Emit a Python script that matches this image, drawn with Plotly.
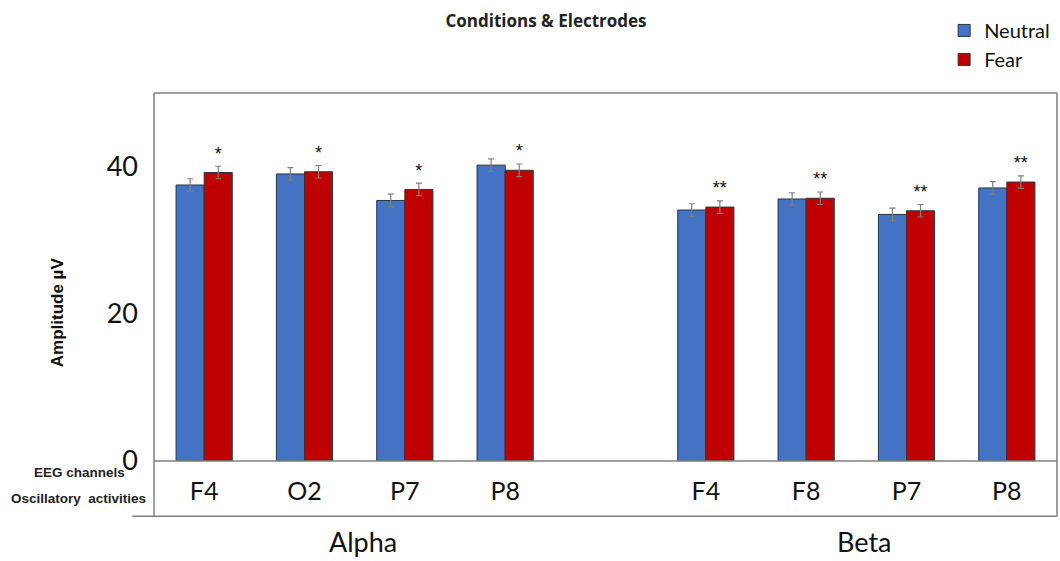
import plotly.graph_objects as go

# ---- data ----
electrodes = ["F4", "O2", "P7", "P8", "F4", "F8", "P7", "P8"]
bands = ["Alpha", "Beta"]
band_of = ["Alpha"] * 4 + ["Beta"] * 4
slot = [0, 1, 2, 3, 5, 6, 7, 8]          # category slots (slot 4 left empty)
neutral = [37.5, 39.0, 35.4, 40.2, 34.1, 35.6, 33.5, 37.1]
fear = [39.2, 39.3, 36.9, 39.5, 34.5, 35.7, 34.0, 37.9]
neutral_err = [0.85, 0.85, 0.85, 0.85, 0.85, 0.85, 0.85, 0.85]
fear_err = [0.85, 0.85, 0.85, 0.85, 0.85, 0.85, 0.85, 0.85]
signif = ["*", "*", "*", "*", "**", "**", "**", "**"]
y_ticks = [0, 20, 40]

BLUE = "#4472C4"
RED = "#C00000"
BW = 0.28

fig = go.Figure()
fig.add_trace(go.Bar(
    x=slot, y=neutral, name="Neutral", width=BW, offset=-BW,
    marker=dict(color=BLUE, line=dict(color="#2b3440", width=1)),
    error_y=dict(type="data", array=neutral_err, color="#7f7f7f", thickness=1.2, width=3),
))
fig.add_trace(go.Bar(
    x=slot, y=fear, name="Fear", width=BW, offset=0,
    marker=dict(color=RED, line=dict(color="#2b3440", width=1)),
    error_y=dict(type="data", array=fear_err, color="#7f7f7f", thickness=1.2, width=3),
))
# significance markers above the Fear bars
fig.add_trace(go.Scatter(
    x=[s + BW / 2 for s in slot],
    y=[f + e + 1.5 for f, e in zip(fear, fear_err)],
    mode="text", text=signif, showlegend=False, hoverinfo="skip",
    textposition="middle center",
    textfont=dict(family="Liberation Sans", size=18, color="#111"),
))

# band labels under each group
for b in bands:
    xs = [s for s, bb in zip(slot, band_of) if bb == b]
    fig.add_annotation(x=sum(xs) / len(xs), xref="x", y=-0.22, yref="paper",
                       text=b, showarrow=False, yanchor="middle", xshift=8,
                       font=dict(family="Lato", size=27, color="#111"))

# y-axis title (centred like the reference)
fig.add_annotation(x=-0.106, xref="paper", y=0.405, yref="paper", text="<b>Amplitude µV</b>",
                   showarrow=False, textangle=-90, xanchor="center", yanchor="middle",
                   font=dict(family="Liberation Sans", size=17, color="#111"))

# left row labels
fig.add_annotation(x=-0.082, xref="paper", y=-0.03, yref="paper", text="<b>EEG channels</b>",
                   showarrow=False, xanchor="center", yanchor="middle",
                   font=dict(family="Liberation Sans", size=13.5, color="#222"))
fig.add_annotation(x=-0.084, xref="paper", y=-0.103, yref="paper", text="<b>Oscillatory  activities</b>",
                   showarrow=False, xanchor="center", yanchor="middle",
                   font=dict(family="Liberation Sans", size=13.5, color="#222"))

# frame lines (table-like box)
lw = 1.5
fig.add_shape(type="line", xref="paper", yref="paper", x0=0, x1=0, y0=-0.15, y1=1,
              line=dict(color="#a0a0a0", width=2))
fig.add_shape(type="line", xref="paper", yref="paper", x0=0, x1=1, y0=1, y1=1,
              line=dict(color="#7f7f7f", width=lw))
fig.add_shape(type="line", xref="paper", yref="paper", x0=1, x1=1, y0=-0.15, y1=1,
              line=dict(color="#7f7f7f", width=lw))
fig.add_shape(type="line", xref="paper", yref="paper", x0=-0.024, x1=1, y0=-0.15, y1=-0.15,
              line=dict(color="#7f7f7f", width=lw))
fig.add_shape(type="line", xref="paper", yref="paper", x0=0, x1=1, y0=0, y1=0,
              line=dict(color="#7f7f7f", width=lw))

fig.update_layout(
    width=1060, height=561,
    margin=dict(l=154, r=3, t=93, b=100, autoexpand=False),
    paper_bgcolor="white", plot_bgcolor="white",
    barmode="overlay",
    title=dict(text="<b>Conditions & Electrodes</b>", x=546 / 1060, xanchor="center",
               y=1 - 21 / 561, yanchor="middle",
               font=dict(family="Open Sans", size=17, color="#222")),
    legend=dict(x=0.875, y=1.223, xanchor="left", yanchor="top",
                font=dict(family="Lato", size=20, color="#111"),
                itemwidth=30, tracegroupgap=2, bgcolor="rgba(0,0,0,0)"),
    xaxis=dict(range=[-0.5, 8.5], tickmode="array", tickvals=slot, ticktext=electrodes,
               showgrid=False, zeroline=False, showline=False, ticks="",
               ticklabelstandoff=13,
               tickfont=dict(family="Lato", size=25, color="#111")),
    yaxis=dict(range=[0, 50], tickmode="array", tickvals=y_ticks,
               showgrid=False, zeroline=False, showline=False, ticks="",
               ticklabelstandoff=15,
               tickfont=dict(family="Lato", size=27, color="#111")),
    showlegend=True,
)
fig.write_html("out.html")
